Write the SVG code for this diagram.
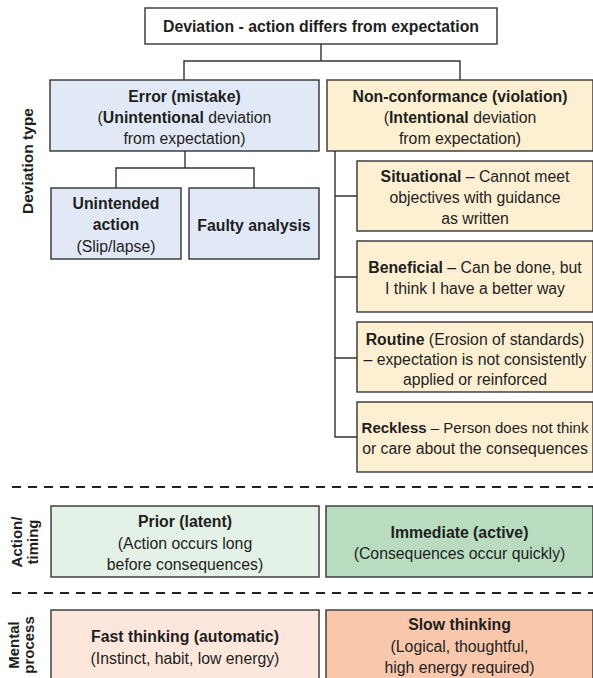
<svg xmlns="http://www.w3.org/2000/svg" width="593" height="678" viewBox="0 0 593 678">
<style>
text{font-family:"Liberation Sans",Arial,sans-serif;font-size:15.8px;fill:#1e1e1e;text-anchor:middle}
.b{font-weight:bold}
.s{font-size:15px}
.box{stroke:#333;stroke-width:1.4}
.white{fill:#fff}
.blue{fill:#e2e9f6}
.yel{fill:#fdf0d2}
.lg{fill:#e3f1e6}
.dg{fill:#b9dcc1}
.lo{fill:#fde7dc}
.do{fill:#f9c7ab}
.con{fill:none;stroke:#333;stroke-width:1.4}
.dash{fill:none;stroke:#222;stroke-width:2.2;stroke-dasharray:9 7}
.lab{font-weight:bold;font-size:15.5px}
.lab2{font-weight:bold;font-size:15px}
</style>
<rect width="593" height="678" fill="#fff"/>
<g id="connectors">
<path class="con" d="M321 44V61M184 80V61H460V80"/>
<path class="con" d="M185 151V168M116 188V168H254V188"/>
<path class="con" d="M335 151V437H357M335 196H357M335 277H357M335 358H357"/>
</g>
<g id="separators">
<line class="dash" x1="12" y1="487" x2="593" y2="487"/>
<line class="dash" x1="12" y1="593" x2="593" y2="593"/>
</g>
<g id="labels">
<text class="lab" transform="translate(33,161) rotate(-90)">Deviation type</text>
<text class="lab2" transform="translate(22,542) rotate(-90)">Action/</text>
<text class="lab2" transform="translate(38,542) rotate(-90)">timing</text>
<text class="lab2" transform="translate(19,645) rotate(-90)">Mental</text>
<text class="lab2" transform="translate(34,645) rotate(-90)">process</text>
</g>
<g id="deviation">
<rect class="box white" x="145" y="8" width="352" height="36"/>
<text class="b" x="321" y="31.5">Deviation - action differs from expectation</text>
</g>
<g id="error">
<rect class="box blue" x="50" y="80" width="269" height="71"/>
<text class="b" x="184.5" y="102">Error (mistake)</text>
<text x="184.5" y="123">(<tspan class="b">Unintentional</tspan> deviation</text>
<text x="184.5" y="143.5">from expectation)</text>
</g>
<g id="nonconformance">
<rect class="box yel" x="327" y="80" width="266" height="71"/>
<text class="b" x="460" y="102">Non-conformance (violation)</text>
<text x="460" y="123">(<tspan class="b">Intentional</tspan> deviation</text>
<text x="460" y="143.5">from expectation)</text>
</g>
<g id="unintended">
<rect class="box blue" x="51" y="188" width="130" height="71"/>
<text class="b" x="116" y="208.5">Unintended</text>
<text class="b" x="116" y="230">action</text>
<text x="116" y="251.5">(Slip/lapse)</text>
</g>
<g id="faulty">
<rect class="box blue" x="189" y="188" width="130" height="71"/>
<text class="b" x="254" y="230.5">Faulty analysis</text>
</g>
<g id="situational">
<rect class="box yel" x="357" y="161" width="236" height="70"/>
<text x="475" y="182"><tspan class="b">Situational</tspan> – Cannot meet</text>
<text x="475" y="203">objectives with guidance</text>
<text x="475" y="224">as written</text>
</g>
<g id="beneficial">
<rect class="box yel" x="357" y="241" width="236" height="71"/>
<text x="475" y="273"><tspan class="b">Beneficial</tspan> – Can be done, but</text>
<text x="475" y="293.5">I think I have a better way</text>
</g>
<g id="routine">
<rect class="box yel" x="357" y="322" width="236" height="70"/>
<text x="475" y="345"><tspan class="b">Routine</tspan> (Erosion of standards)</text>
<text x="475" y="365">– expectation is not consistently</text>
<text x="475" y="385">applied or reinforced</text>
</g>
<g id="reckless">
<rect class="box yel" x="357" y="402" width="236" height="70"/>
<text class="s" x="475" y="433"><tspan class="b">Reckless</tspan> – Person does not think</text>
<text x="475" y="454">or care about the consequences</text>
</g>
<g id="prior">
<rect class="box lg" x="51" y="506" width="268" height="71"/>
<text class="b" x="185" y="527">Prior (latent)</text>
<text x="185" y="548.5">(Action occurs long</text>
<text x="185" y="570">before consequences)</text>
</g>
<g id="immediate">
<rect class="box dg" x="326" y="506" width="267" height="71"/>
<text class="b" x="459.5" y="538">Immediate (active)</text>
<text x="459.5" y="559">(Consequences occur quickly)</text>
</g>
<g id="fast">
<rect class="box lo" x="51" y="610" width="268" height="80"/>
<text class="b" x="185" y="642">Fast thinking (automatic)</text>
<text x="185" y="663.5">(Instinct, habit, low energy)</text>
</g>
<g id="slow">
<rect class="box do" x="326" y="610" width="267" height="80"/>
<text class="b" x="459.5" y="630">Slow thinking</text>
<text x="459.5" y="652">(Logical, thoughtful,</text>
<text x="459.5" y="673">high energy required)</text>
</g>
</svg>
